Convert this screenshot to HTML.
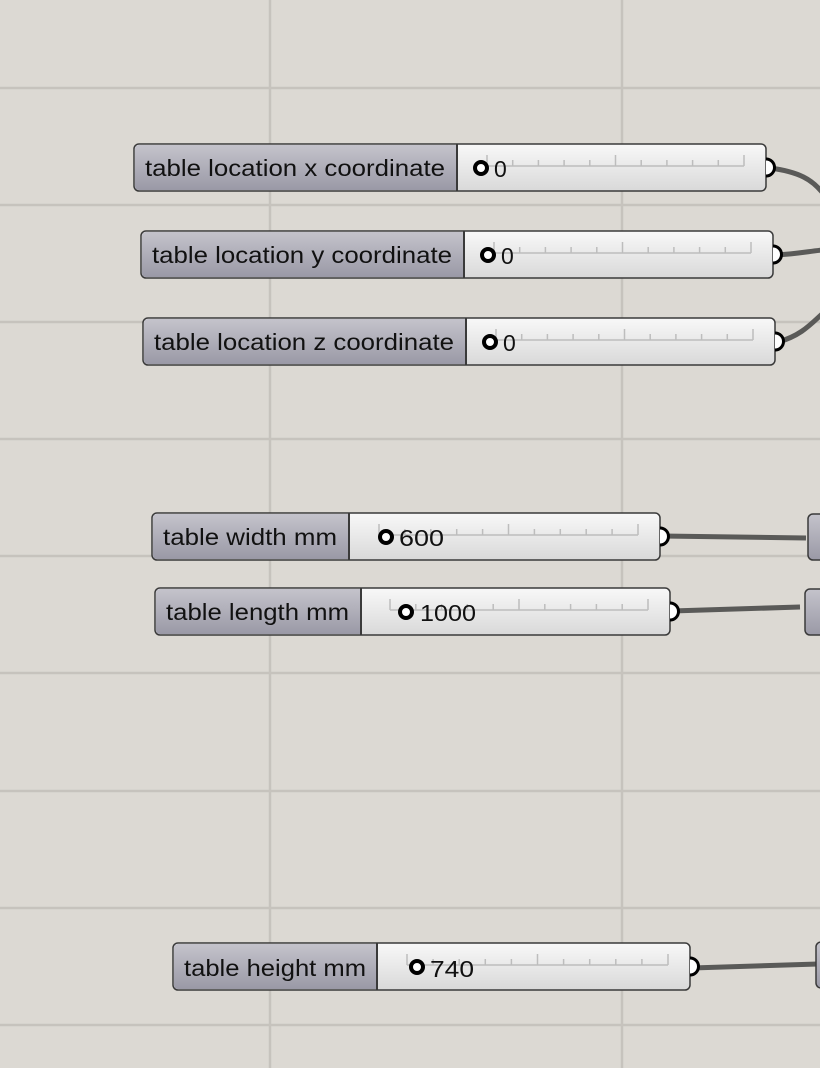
<!DOCTYPE html>
<html><head><meta charset="utf-8"><style>
html,body{margin:0;padding:0;background:#dcd9d3;}
svg{display:block}
text{font-family:"Liberation Sans",sans-serif;font-size:23px;fill:#111}
</style></head><body>
<svg id="s" width="820" height="1068" viewBox="0 0 820 1068" xmlns="http://www.w3.org/2000/svg">
<defs>
<linearGradient id="lg" x1="0" y1="0" x2="0" y2="1"><stop offset="0" stop-color="#c4c3cb"/><stop offset="1" stop-color="#9a99a6"/></linearGradient>
<linearGradient id="vg" x1="0" y1="0" x2="0" y2="1"><stop offset="0" stop-color="#f8f8f8"/><stop offset="1" stop-color="#d9d9d9"/></linearGradient>
</defs>
<g stroke="#c6c3bd" stroke-width="2.5">
<line x1="270" y1="0" x2="270" y2="1068"/><line x1="622" y1="0" x2="622" y2="1068"/>
<line x1="0" y1="88" x2="820" y2="88"/><line x1="0" y1="205" x2="820" y2="205"/>
<line x1="0" y1="322" x2="820" y2="322"/><line x1="0" y1="439" x2="820" y2="439"/>
<line x1="0" y1="556" x2="820" y2="556"/><line x1="0" y1="673" x2="820" y2="673"/>
<line x1="0" y1="791" x2="820" y2="791"/><line x1="0" y1="908" x2="820" y2="908"/>
<line x1="0" y1="1025" x2="820" y2="1025"/>
</g>
<g fill="none" stroke="#5a5a58" stroke-width="5">
<path d="M770 168 C800 172 812 180 822 192"/>
<path d="M776 255 C795 254 805 252 822 250"/>
<path d="M778 342 C800 336 810 325 822 314"/>
<path d="M662 536 L806 538"/>
<path d="M672 611 L800 607"/>
<path d="M692 968 L818 964"/>
</g>
<g stroke="#3a3a3a" stroke-width="1.5">
<rect x="808" y="514" width="30" height="46" rx="5" fill="url(#lg)"/>
<rect x="805" y="589" width="30" height="46" rx="5" fill="url(#lg)"/>
<rect x="816" y="942" width="30" height="46" rx="5" fill="url(#lg)"/>
</g>
<g id="sl"></g>
<g>
<text x="145" y="176" textLength="300" lengthAdjust="spacingAndGlyphs">table location x coordinate</text><text x="494" y="177">0</text>
<text x="152" y="263" textLength="300" lengthAdjust="spacingAndGlyphs">table location y coordinate</text><text x="501" y="264">0</text>
<text x="154" y="350" textLength="300" lengthAdjust="spacingAndGlyphs">table location z coordinate</text><text x="503" y="351">0</text>
<text x="163" y="545" textLength="174" lengthAdjust="spacingAndGlyphs">table width mm</text><text x="399" y="546" textLength="45" lengthAdjust="spacingAndGlyphs">600</text>
<text x="166" y="620" textLength="183" lengthAdjust="spacingAndGlyphs">table length mm</text><text x="420" y="621" textLength="56" lengthAdjust="spacingAndGlyphs">1000</text>
<text x="184" y="976" textLength="182" lengthAdjust="spacingAndGlyphs">table height mm</text><text x="430" y="977" textLength="44" lengthAdjust="spacingAndGlyphs">740</text>
</g>
</svg>
<script>
var S=[[134,144,766,457,481],[141,231,773,464,488],[143,318,775,466,490],[152,513,660,349,386],[155,588,670,361,406],[173,943,690,377,417]];
var o='';
S.forEach(function(a){var x=a[0],y=a[1],r=a[2],sp=a[3],k=a[4],h=47,ty=y+22;
o+='<rect x="'+x+'" y="'+y+'" width="'+(r-x)+'" height="'+h+'" rx="5" fill="url(#vg)" stroke="#3a3a3a" stroke-width="1.5"/>';
o+='<path d="M'+(x+5)+' '+(y+1)+' H'+sp+' V'+(y+h-1)+' H'+(x+5)+' Q'+(x+1)+' '+(y+h-1)+' '+(x+1)+' '+(y+h-5)+' V'+(y+5)+' Q'+(x+1)+' '+(y+1)+' '+(x+5)+' '+(y+1)+'Z" fill="url(#lg)"/>';
o+='<line x1="'+sp+'" y1="'+y+'" x2="'+sp+'" y2="'+(y+h)+'" stroke="#3a3a3a" stroke-width="2"/>';
var t0=sp+30,t1=r-22;
if(k-t0>10)t0=k-16;
o+='<line x1="'+t0+'" y1="'+ty+'" x2="'+t1+'" y2="'+ty+'" stroke="#bdbdbd" stroke-width="1.5"/>';
for(var i=0;i<=10;i++){var tx=t0+(t1-t0)*i/10,th=(i%5==0)?11:6;
o+='<line x1="'+tx+'" y1="'+(ty-th)+'" x2="'+tx+'" y2="'+ty+'" stroke="#bdbdbd" stroke-width="1.5"/>';}
o+='<circle cx="'+k+'" cy="'+(y+24)+'" r="6" fill="#fff" stroke="#000" stroke-width="4"/>';
o+='<path d="M'+r+' '+(y+15)+' a8 8 0 0 1 0 17" fill="#fff" stroke="#000" stroke-width="3"/>';
});
document.getElementById('sl').innerHTML=o;
</script>
</body></html>
